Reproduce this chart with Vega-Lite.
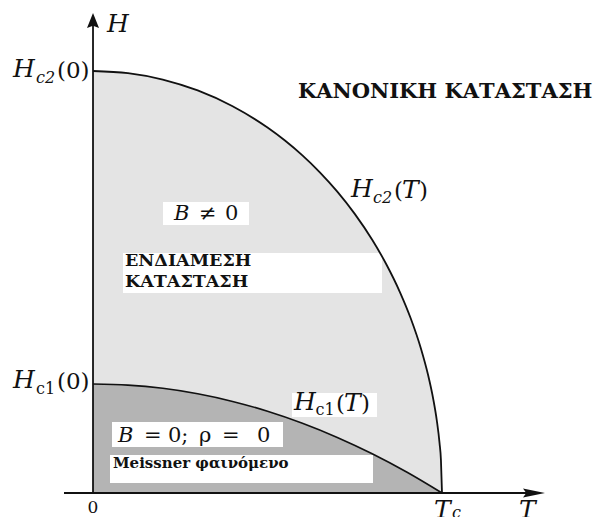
{
  "$schema": "https://vega.github.io/schema/vega-lite/v6.json",
  "width": 601,
  "height": 517,
  "padding": 0,
  "autosize": "none",
  "background": "white",
  "config": {"view": {"stroke": null}},
  "datasets": {
    "hc2": [
      {"T": 0, "H": 1}, {"T": 0.1, "H": 0.995}, {"T": 0.2, "H": 0.9798}, {"T": 0.3, "H": 0.9539},
      {"T": 0.4, "H": 0.9165}, {"T": 0.5, "H": 0.866}, {"T": 0.55, "H": 0.8352}, {"T": 0.6, "H": 0.8},
      {"T": 0.65, "H": 0.7599}, {"T": 0.7, "H": 0.7141}, {"T": 0.75, "H": 0.6614}, {"T": 0.8, "H": 0.6},
      {"T": 0.84, "H": 0.5426}, {"T": 0.88, "H": 0.475}, {"T": 0.91, "H": 0.4146}, {"T": 0.94, "H": 0.3412},
      {"T": 0.96, "H": 0.28}, {"T": 0.975, "H": 0.2222}, {"T": 0.985, "H": 0.1726}, {"T": 0.993, "H": 0.1181},
      {"T": 0.997, "H": 0.0774}, {"T": 1, "H": 0}
    ],
    "hc1": [
      {"T": 0, "H": 0.2583}, {"T": 0.1, "H": 0.2557}, {"T": 0.2, "H": 0.248}, {"T": 0.3, "H": 0.2351},
      {"T": 0.4, "H": 0.217}, {"T": 0.5, "H": 0.1937}, {"T": 0.6, "H": 0.1653}, {"T": 0.7, "H": 0.1317},
      {"T": 0.8, "H": 0.093}, {"T": 0.9, "H": 0.0491}, {"T": 1, "H": 0}
    ],
    "boxes": [
      {"name": "B≠0", "T": 0.2006, "T2": 0.447, "H": 0.6896, "H2": 0.6351},
      {"name": "intermediate", "T": 0.086, "T2": 0.8281, "H": 0.5687, "H2": 0.4739},
      {"name": "Hc1(T)", "T": 0.5702, "T2": 0.8138, "H": 0.237, "H2": 0.1801},
      {"name": "B=0", "T": 0.0544, "T2": 0.5444, "H": 0.1682, "H2": 0.109},
      {"name": "Meissner", "T": 0.0487, "T2": 0.8023, "H": 0.09, "H2": 0.0237}
    ],
    "axes": [
      {"T": 0, "T2": 0, "H": 0, "H2": 1.109},
      {"T": -0.0831, "T2": 1.252, "H": 0, "H2": 0}
    ],
    "arrows": [
      {"dir": "up", "T": 0, "H": 1.1197},
      {"dir": "right", "T": 1.2636, "H": 0}
    ],
    "labels": [
      {"role": "math", "label": "H", "T": 0.0401, "H": 1.0924},
      {"role": "math", "label": "H", "T": -0.2292, "H": 0.9858},
      {"role": "sub", "label": "c2", "T": -0.1633, "H": 0.9716},
      {"role": "paren", "label": "(0)", "T": -0.1032, "H": 0.9834},
      {"role": "math", "label": "H", "T": -0.2292, "H": 0.2488},
      {"role": "subup", "label": "c1", "T": -0.1633, "H": 0.2346},
      {"role": "paren", "label": "(0)", "T": -0.1032, "H": 0.2464},
      {"role": "origin", "label": "0", "T": 0, "H": -0.0474},
      {"role": "math", "label": "T", "T": 0.9771, "H": -0.0592},
      {"role": "sub", "label": "c", "T": 1.0287, "H": -0.0592},
      {"role": "math", "label": "T", "T": 1.2206, "H": -0.0592},
      {"role": "title", "label": "ΚΑΝΟΝΙΚΗ ΚΑΤΑΣΤΑΣΗ", "T": 0.5874, "H": 0.936},
      {"role": "math", "label": "H", "T": 0.7393, "H": 0.7014},
      {"role": "sub", "label": "c2", "T": 0.8023, "H": 0.6872},
      {"role": "paren", "label": "(", "T": 0.8625, "H": 0.6991},
      {"role": "math", "label": "T", "T": 0.8854, "H": 0.6991},
      {"role": "paren", "label": ")", "T": 0.9341, "H": 0.6991},
      {"role": "math", "label": "H", "T": 0.5759, "H": 0.1967},
      {"role": "subup", "label": "c1", "T": 0.6375, "H": 0.1848},
      {"role": "paren", "label": "(", "T": 0.6963, "H": 0.1943},
      {"role": "math", "label": "T", "T": 0.7192, "H": 0.1943},
      {"role": "paren", "label": ")", "T": 0.7679, "H": 0.1943},
      {"role": "eqit", "label": "B", "T": 0.2321, "H": 0.6469},
      {"role": "eqrm", "label": "≠", "T": 0.3037, "H": 0.6469},
      {"role": "eqrm", "label": "0", "T": 0.3782, "H": 0.6469},
      {"role": "state", "label": "ΕΝΔΙΑΜΕΣΗ", "T": 0.0917, "H": 0.5379},
      {"role": "state", "label": "ΚΑΤΑΣΤΑΣΗ", "T": 0.0917, "H": 0.4882},
      {"role": "eqit", "label": "B", "T": 0.0716, "H": 0.1209},
      {"role": "eqrm", "label": "=", "T": 0.1461, "H": 0.1209},
      {"role": "eqrm", "label": "0;", "T": 0.2149, "H": 0.1209},
      {"role": "eqrm", "label": "ρ", "T": 0.3037, "H": 0.1209},
      {"role": "eqrm", "label": "=", "T": 0.3696, "H": 0.1209},
      {"role": "eqrm", "label": "0", "T": 0.4699, "H": 0.1209},
      {"role": "note", "label": "Meissner φαινόμενο", "T": 0.0573, "H": 0.0592}
    ]
  },
  "encoding": {
    "x": {"field": "T", "type": "quantitative", "axis": null,
          "scale": {"domain": [-0.2665, 1.4556], "nice": false, "zero": false}},
    "y": {"field": "H", "type": "quantitative", "axis": null,
          "scale": {"domain": [-0.0569, 1.1682], "nice": false, "zero": false}}
  },
  "layer": [
    {
      "data": {"name": "hc2"},
      "mark": {"type": "area", "color": "#e4e4e4", "interpolate": "monotone"},
      "encoding": {"y2": {"datum": 0}}
    },
    {
      "data": {"name": "hc1"},
      "mark": {"type": "area", "color": "#b4b4b4", "interpolate": "monotone"},
      "encoding": {"y2": {"datum": 0}}
    },
    {
      "data": {"name": "boxes"},
      "mark": {"type": "rect", "color": "white"},
      "encoding": {"x2": {"field": "T2"}, "y2": {"field": "H2"}}
    },
    {
      "data": {"name": "hc2"},
      "mark": {"type": "line", "color": "#111", "strokeWidth": 1.8, "interpolate": "monotone"},
      "encoding": {}
    },
    {
      "data": {"name": "hc1"},
      "mark": {"type": "line", "color": "#111", "strokeWidth": 1.6, "interpolate": "monotone"},
      "encoding": {}
    },
    {
      "data": {"name": "axes"},
      "mark": {"type": "rule", "color": "#111", "strokeWidth": 1.8},
      "encoding": {"x2": {"field": "T2"}, "y2": {"field": "H2"}}
    },
    {
      "data": {"name": "arrows"},
      "transform": [{"filter": "datum.dir === 'up'"}],
      "mark": {"type": "point", "filled": true, "color": "#111", "opacity": 1, "size": 225,
               "shape": "M0,-1L0.8,1L0,0.7L-0.8,1Z"},
      "encoding": {}
    },
    {
      "data": {"name": "arrows"},
      "transform": [{"filter": "datum.dir === 'right'"}],
      "mark": {"type": "point", "filled": true, "color": "#111", "opacity": 1, "size": 484,
               "shape": "M1,0L-1,-0.4L-0.7,0L-1,0.4Z"},
      "encoding": {}
    },
    {
      "data": {"name": "labels"},
      "transform": [{"filter": "datum.role === 'math'"}],
      "mark": {"type": "text", "align": "left", "baseline": "alphabetic", "font": "DejaVu Serif",
               "fontStyle": "italic", "fontSize": 25, "color": "#111"},
      "encoding": {"text": {"field": "label"}}
    },
    {
      "data": {"name": "labels"},
      "transform": [{"filter": "datum.role === 'paren'"}],
      "mark": {"type": "text", "align": "left", "baseline": "alphabetic", "font": "DejaVu Serif",
               "fontSize": 23, "color": "#111"},
      "encoding": {"text": {"field": "label"}}
    },
    {
      "data": {"name": "labels"},
      "transform": [{"filter": "datum.role === 'sub'"}],
      "mark": {"type": "text", "align": "left", "baseline": "alphabetic", "font": "DejaVu Serif",
               "fontStyle": "italic", "fontSize": 16, "color": "#111"},
      "encoding": {"text": {"field": "label"}}
    },
    {
      "data": {"name": "labels"},
      "transform": [{"filter": "datum.role === 'subup'"}],
      "mark": {"type": "text", "align": "left", "baseline": "alphabetic", "font": "DejaVu Serif",
               "fontSize": 16, "color": "#111"},
      "encoding": {"text": {"field": "label"}}
    },
    {
      "data": {"name": "labels"},
      "transform": [{"filter": "datum.role === 'origin'"}],
      "mark": {"type": "text", "align": "center", "baseline": "alphabetic", "font": "DejaVu Serif",
               "fontSize": 17, "color": "#111"},
      "encoding": {"text": {"field": "label"}}
    },
    {
      "data": {"name": "labels"},
      "transform": [{"filter": "datum.role === 'eqit'"}],
      "mark": {"type": "text", "align": "left", "baseline": "alphabetic", "font": "DejaVu Serif",
               "fontStyle": "italic", "fontSize": 21, "color": "#111"},
      "encoding": {"text": {"field": "label"}}
    },
    {
      "data": {"name": "labels"},
      "transform": [{"filter": "datum.role === 'eqrm'"}],
      "mark": {"type": "text", "align": "left", "baseline": "alphabetic", "font": "DejaVu Serif",
               "fontSize": 21, "color": "#111"},
      "encoding": {"text": {"field": "label"}}
    },
    {
      "data": {"name": "labels"},
      "transform": [{"filter": "datum.role === 'title'"}],
      "mark": {"type": "text", "align": "left", "baseline": "alphabetic", "font": "DejaVu Serif",
               "fontWeight": "bold", "fontSize": 21, "color": "#111"},
      "encoding": {"text": {"field": "label"}}
    },
    {
      "data": {"name": "labels"},
      "transform": [{"filter": "datum.role === 'state'"}],
      "mark": {"type": "text", "align": "left", "baseline": "alphabetic", "font": "DejaVu Serif",
               "fontWeight": "bold", "fontSize": 17.5, "color": "#111"},
      "encoding": {"text": {"field": "label"}}
    },
    {
      "data": {"name": "labels"},
      "transform": [{"filter": "datum.role === 'note'"}],
      "mark": {"type": "text", "align": "left", "baseline": "alphabetic", "font": "DejaVu Serif",
               "fontWeight": "bold", "fontSize": 15, "color": "#111"},
      "encoding": {"text": {"field": "label"}}
    }
  ]
}
